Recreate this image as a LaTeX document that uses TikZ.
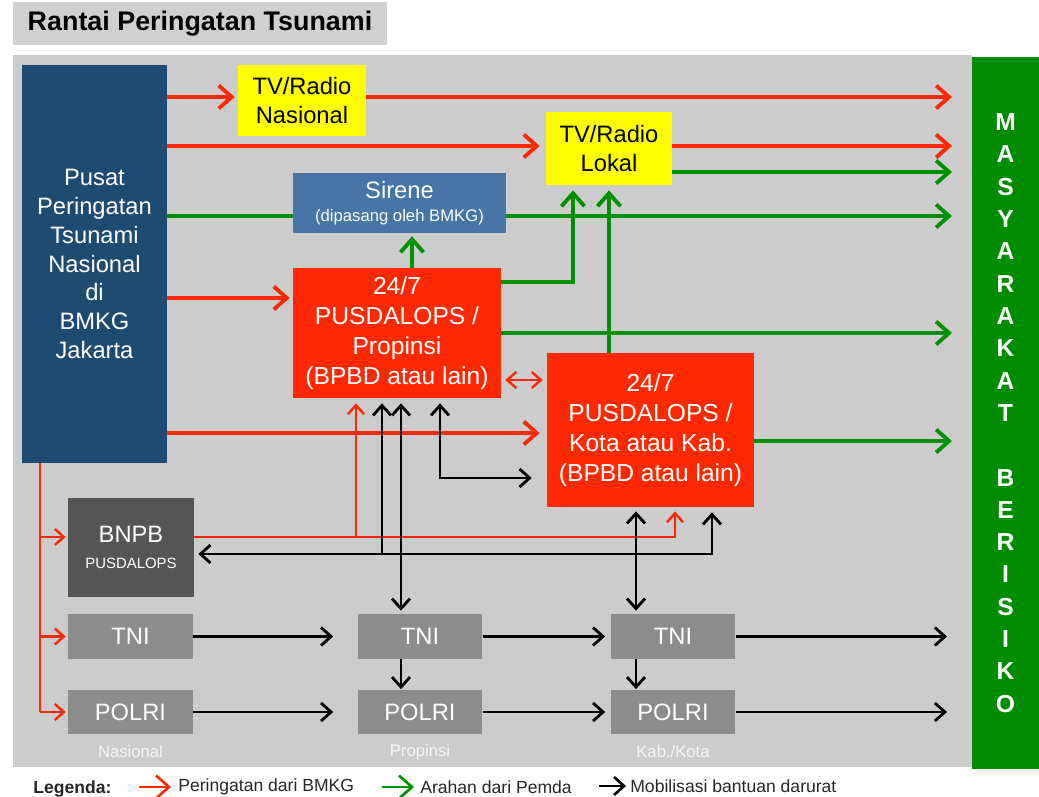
\documentclass[tikz,border=0pt]{standalone}
\usepackage{fontspec}
\setmainfont{Liberation Sans}
\usetikzlibrary{arrows.meta,positioning,calc}
\definecolor{panelgray}{RGB}{204,204,204}
\definecolor{titlegray}{RGB}{208,208,208}
\definecolor{pusatblue}{RGB}{31,74,114}
\definecolor{sireneblue}{RGB}{70,117,166}
\definecolor{warnred}{RGB}{255,40,0}
\definecolor{arahgreen}{RGB}{0,145,0}
\definecolor{colgreen}{RGB}{0,140,0}
\definecolor{bnpbgray}{RGB}{85,85,85}
\definecolor{unitgray}{RGB}{140,140,140}
\definecolor{tvyellow}{RGB}{255,255,0}

\begin{document}
\begin{tikzpicture}[x=0.02cm, y=-0.02cm,
    box/.style={inner sep=0pt, align=center, text=white,
      font=\fontsize{13.5}{16.4}\selectfont},
    redbox/.style={box, fill=warnred, font=\fontsize{14}{17}\selectfont},
    unit/.style={box, fill=unitgray, minimum width=2.5cm, minimum height=0.9cm},
    tvbox/.style={box, fill=tvyellow, text=black, font=\fontsize{13.5}{16}\selectfont},
    warn/.style={draw=warnred, line width=2.2pt, >={Straight Barb[length=2.6mm,width=4.6mm]}, ->},
    warnthin/.style={draw=warnred, line width=1.4pt, >={Straight Barb[length=1.8mm,width=3.2mm]}, ->},
    arah/.style={draw=arahgreen, line width=2.2pt, >={Straight Barb[length=2.6mm,width=4.6mm]}, ->},
    mob/.style={draw=black, line width=1.6pt, >={Straight Barb[length=2mm,width=3.6mm]}, ->},
    legtext/.style={anchor=west, inner sep=0pt, text=black!85, font=\fontsize{10}{12}\selectfont}]
    \useasboundingbox (0,0) rectangle (1039,797);

    % Title and panel
    \node[fill=titlegray, minimum width=7.48cm, minimum height=0.86cm, inner sep=0pt,
      font=\bfseries\fontsize{15.3}{18}\selectfont] (title) at (200,23.5) {Rantai Peringatan Tsunami};
    \fill[panelgray] (13,55) rectangle (972,767);
    \node[fill=colgreen, minimum width=1.34cm, minimum height=14.24cm, inner sep=0pt, align=center,
      text=white, font=\bfseries\fontsize{14}{18.4}\selectfont] (masy) at (1005.5,413)
      {M\\A\\S\\Y\\A\\R\\A\\K\\A\\T\\[18.4pt]B\\E\\R\\I\\S\\I\\K\\O};

    % Boxes
    \node[box, fill=pusatblue, minimum width=2.9cm, minimum height=7.96cm] (pusat) at (94.5,264)
      {Pusat\\Peringatan\\Tsunami\\Nasional\\di\\BMKG\\Jakarta};
    \node[tvbox, minimum width=2.56cm, minimum height=1.42cm] (tvnas) at (302,100.5) {TV/Radio\\Nasional};
    \node[tvbox, minimum width=2.52cm, minimum height=1.46cm] (tvlok) at (609,148.5) {TV/Radio\\Lokal};
    \node[box, fill=sireneblue, minimum width=4.26cm, minimum height=1.2cm] (sirene) at (399.5,203)
      {Sirene\\[-3pt]{\fontsize{9.5}{11}\selectfont (dipasang oleh BMKG)}};
    \node[redbox, minimum width=4.16cm, minimum height=2.6cm] (prov) at (397,333)
      {24/7\\PUSDALOPS /\\Propinsi\\(BPBD atau lain)};
    \node[redbox, minimum width=4.14cm, minimum height=3.08cm] (kota) at (650.5,430)
      {24/7\\PUSDALOPS /\\Kota atau Kab.\\(BPBD atau lain)};
    \node[box, fill=bnpbgray, minimum width=2.52cm, minimum height=1.98cm] (bnpb) at (131,547.5)
      {BNPB\\[-2pt]{\fontsize{8.5}{10}\selectfont PUSDALOPS}};
    \foreach \k/\xc/\lbl in {1/130.5/Nasional, 2/420/Propinsi, 3/673/{Kab./Kota}} {
      \node[unit] (tni\k) at (\xc,636.5) {TNI};
      \node[unit] (polri\k) at (\xc,712) {POLRI};
      \node[text=white!85!panelgray, font=\fontsize{9.5}{11}\selectfont] (lvl\k) at (\xc,752) {\lbl};
    }

    % Rows and columns of the connectors
    \coordinate (edgeR) at (952,0);
    \coordinate (edgeK) at (947,0);
    \coordinate (rNas) at (0,97);     \coordinate (rLok) at (0,146);
    \coordinate (rLokG) at (0,172);   \coordinate (rSir) at (0,216);
    \coordinate (rProvG) at (0,282);  \coordinate (rProv) at (0,298);
    \coordinate (rProvOut) at (0,333);\coordinate (rPair) at (0,380);
    \coordinate (rKota) at (0,433);   \coordinate (rKotaOut) at (0,441);
    \coordinate (rKotaB) at (0,478);  \coordinate (rBnpb) at (0,537);
    \coordinate (rMob) at (0,554);
    \coordinate (cTrunk) at (40,0);   \coordinate (cSirUp) at (412,0);
    \coordinate (cLokUp) at (573,0);  \coordinate (cRedProv) at (356,0);
    \coordinate (cRedKota) at (675,0);\coordinate (cMobProv) at (382,0);
    \coordinate (cMobTni) at (401,0); \coordinate (cMobKota) at (440,0);
    \coordinate (cMobTniK) at (636,0);\coordinate (cMobBnpb) at (712,0);

    % Peringatan dari BMKG
    \draw[warn, shorten >=0.06cm] (pusat.east |- rNas) -- (tvnas.west |- rNas);
    \draw[warn] (tvnas.east |- rNas) -- (edgeR |- rNas);
    \draw[warn, shorten >=0.12cm] (pusat.east |- rLok) -- (tvlok.west |- rLok);
    \draw[warn] (tvlok.east |- rLok) -- (edgeR |- rLok);
    \draw[warn, shorten >=0.06cm] (pusat.east |- rProv) -- (prov.west |- rProv);
    \draw[warn, shorten >=0.14cm] (pusat.east |- rKota) -- (kota.west |- rKota);
    \draw[warnthin, <->, shorten <=0.08cm, shorten >=0.08cm] (prov.east |- rPair) -- (kota.west |- rPair);
    \draw[warnthin, -] (pusat.south -| cTrunk) -- (cTrunk |- polri1);
    \draw[warnthin, shorten >=0.04cm] (cTrunk |- rBnpb) -- (bnpb.west |- rBnpb);
    \draw[warnthin, shorten >=0.04cm] (cTrunk |- tni1) -- (tni1.west);
    \draw[warnthin, shorten >=0.04cm] (cTrunk |- polri1) -- (polri1.west);
    \draw[warnthin, shorten >=0.08cm] (bnpb.east |- rBnpb) -| (cRedKota |- kota.south);
    \draw[warnthin, shorten >=0.1cm] (cRedProv |- rBnpb) -- (cRedProv |- prov.south);

    % Arahan dari Pemda
    \draw[arah] (tvlok.east |- rLokG) -- (edgeR |- rLokG);
    \draw[arah, -] (pusat.east |- rSir) -- (sirene.west |- rSir);
    \draw[arah] (sirene.east |- rSir) -- (edgeR |- rSir);
    \draw[arah, shorten >=0.06cm] (cSirUp |- prov.north) -- (cSirUp |- sirene.south);
    \draw[arah, shorten >=0.1cm] (prov.east |- rProvG) -| (cLokUp |- tvlok.south);
    \draw[arah] (prov.east |- rProvOut) -- (edgeR |- rProvOut);
    \draw[arah, shorten >=0.1cm] (tvlok.south |- kota.north) -- (tvlok.south);
    \draw[arah] (kota.east |- rKotaOut) -- (edgeR |- rKotaOut);

    % Mobilisasi bantuan darurat
    \draw[mob, <->, shorten <=0.1cm, shorten >=0.08cm] (cMobBnpb |- kota.south) |- (bnpb.east |- rMob);
    \draw[mob, shorten >=0.1cm] (cMobProv |- rMob) -- (cMobProv |- prov.south);
    \draw[mob, <->, shorten <=0.1cm, shorten >=0.06cm] (cMobTni |- prov.south) -- (cMobTni |- tni2.north);
    \draw[mob, <->, shorten <=0.1cm, shorten >=0.3cm] (cMobKota |- prov.south) |- (kota.west |- rKotaB);
    \draw[mob, <->, shorten <=0.08cm, shorten >=0.06cm] (cMobTniK |- kota.south) -- (cMobTniK |- tni3.north);
    \draw[mob] (cMobTni |- tni2.south) -- (cMobTni |- polri2.north);
    \draw[mob] (cMobTniK |- tni3.south) -- (cMobTniK |- polri3.north);
    \foreach \u in {tni,polri} {
      \draw[mob, shorten >=0.48cm] (\u1.east) -- (\u2.west);
      \draw[mob, shorten >=0.1cm] (\u2.east) -- (\u3.west);
      \draw[mob] (\u3.east) -- (edgeK |- \u3);
    }

    % Legend
    \node[legtext, font=\bfseries\fontsize{10}{12}\selectfont] (legenda) at (33,789) {Legenda:};
    \node[legtext] (lgWarn) at (178,787) {Peringatan dari BMKG};
    \node[legtext] (lgArah) at (420,787) {Arahan dari Pemda};
    \node[legtext] (lgMob) at (630,786) {Mobilisasi bantuan darurat};
    \draw[warn, line width=1.5pt] ([xshift=-0.78cm]lgWarn.west) -- ([xshift=-0.14cm]lgWarn.west);
    \draw[arah, line width=1.5pt] ([xshift=-0.76cm]lgArah.west) -- ([xshift=-0.12cm]lgArah.west);
    \draw[mob, line width=1.5pt] ([xshift=-0.62cm]lgMob.west) -- ([xshift=-0.08cm]lgMob.west);
\end{tikzpicture}
\end{document}
